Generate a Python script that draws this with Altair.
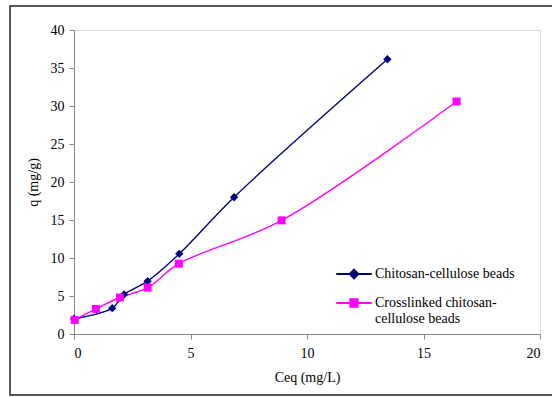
import altair as alt
import pandas as pd

series_names = ["Chitosan-cellulose beads", "Crosslinked chitosan-cellulose beads"]
blue_x = [0.0, 1.64, 2.15, 3.16, 4.52, 6.87, 13.45]
blue_y = [2.0, 3.4, 5.2, 6.95, 10.55, 18.0, 36.15]
pink_x = [0.03, 0.94, 1.97, 3.16, 4.5, 8.91, 16.42]
pink_y = [1.85, 3.3, 4.8, 6.1, 9.25, 14.95, 30.6]
x_ticks = [0, 5, 10, 15, 20]
y_ticks = [0, 5, 10, 15, 20, 25, 30, 35, 40]

rows = []
for i, (xv, yv) in enumerate(zip(blue_x, blue_y)):
    rows.append({"series": series_names[0], "x": xv, "y": yv, "i": i})
for i, (xv, yv) in enumerate(zip(pink_x, pink_y)):
    rows.append({"series": series_names[1], "x": xv, "y": yv, "i": i})
df = pd.DataFrame(rows)

colors = ["#000080", "#FF00FF"]
FONT = "Liberation Serif"
FS = 14

xenc = alt.X("x:Q", scale=alt.Scale(domain=[0, 20], nice=False),
             axis=alt.Axis(values=x_ticks, title="Ceq (mg/L)", grid=False,
                           labelFont=FONT, titleFont=FONT,
                           labelFontSize=FS, titleFontSize=FS, titleFontWeight="normal",
                           labelPadding=7, titlePadding=10))
yenc = alt.Y("y:Q", scale=alt.Scale(domain=[0, 40], nice=False),
             axis=alt.Axis(values=y_ticks, title="q (mg/g)", grid=False,
                           labelFont=FONT, titleFont=FONT,
                           labelFontSize=FS, titleFontSize=FS, titleFontWeight="normal",
                           labelPadding=5, titlePadding=10))
color_scale = alt.Scale(domain=series_names, range=colors)

base = alt.Chart(df)

lines = base.mark_line(interpolate="catmull-rom", strokeWidth=1.4).encode(
    x=xenc, y=yenc,
    color=alt.Color("series:N", scale=color_scale),
    order="i:Q",
)

blue_pts = base.mark_point(filled=True, opacity=1, shape="diamond", size=70).encode(
    x=xenc, y=yenc,
    color=alt.Color("series:N", scale=color_scale),
).transform_filter(alt.datum.series == series_names[0])

pink_pts = base.mark_point(filled=True, opacity=1, shape="square", size=64).encode(
    x=xenc, y=yenc,
    color=alt.Color("series:N", scale=color_scale),
).transform_filter(alt.datum.series == series_names[1])

diamond_path = "M-1,-0.022H1V0.022H-1Z M-0.27,0L0,-0.27L0.27,0L0,0.27Z"
square_path = "M-1,-0.022H1V0.022H-1Z M-0.23,-0.23H0.23V0.23H-0.23Z"

label_expr = ("datum.label == 'Crosslinked chitosan-cellulose beads' ? "
              "['Crosslinked chitosan-', 'cellulose beads'] : datum.label")
leg = alt.Legend(title=None, orient="none", legendX=262, legendY=226,
                 symbolSize=1156, labelFontSize=FS, labelFont=FONT,
                 labelOffset=3, rowPadding=3, labelLimit=300, labelExpr=label_expr)

legend_layer = base.mark_point(filled=True, opacity=1).transform_filter("false").encode(
    x=xenc, y=yenc,
    color=alt.Color("series:N", scale=color_scale, legend=leg),
    shape=alt.Shape("series:N", scale=alt.Scale(domain=series_names, range=[diamond_path, square_path]),
                    legend=leg),
)

border = alt.Chart(pd.DataFrame({"a": [0]})).mark_rect(
    fill="transparent", stroke="#222222", strokeWidth=1.5
).encode(x=alt.value(-64), x2=alt.value(482), y=alt.value(-24), y2=alt.value(365))

chart = alt.layer(border, legend_layer, lines, blue_pts, pink_pts).properties(
    width=466, height=304, autosize="none",
    padding={"left": 74, "top": 30, "right": 12, "bottom": 63},
).configure_view(stroke=None).configure_axis(
    labelFont=FONT, titleFont=FONT, labelColor="#000000", titleColor="#000000",
    domainColor="#808080", domainWidth=1.5, tickColor="#333333", tickSize=4, tickWidth=1,
).configure_legend(labelFont=FONT).configure(background="white", font=FONT)

chart.save("out.html", embed_options={"renderer": "svg", "actions": False})
